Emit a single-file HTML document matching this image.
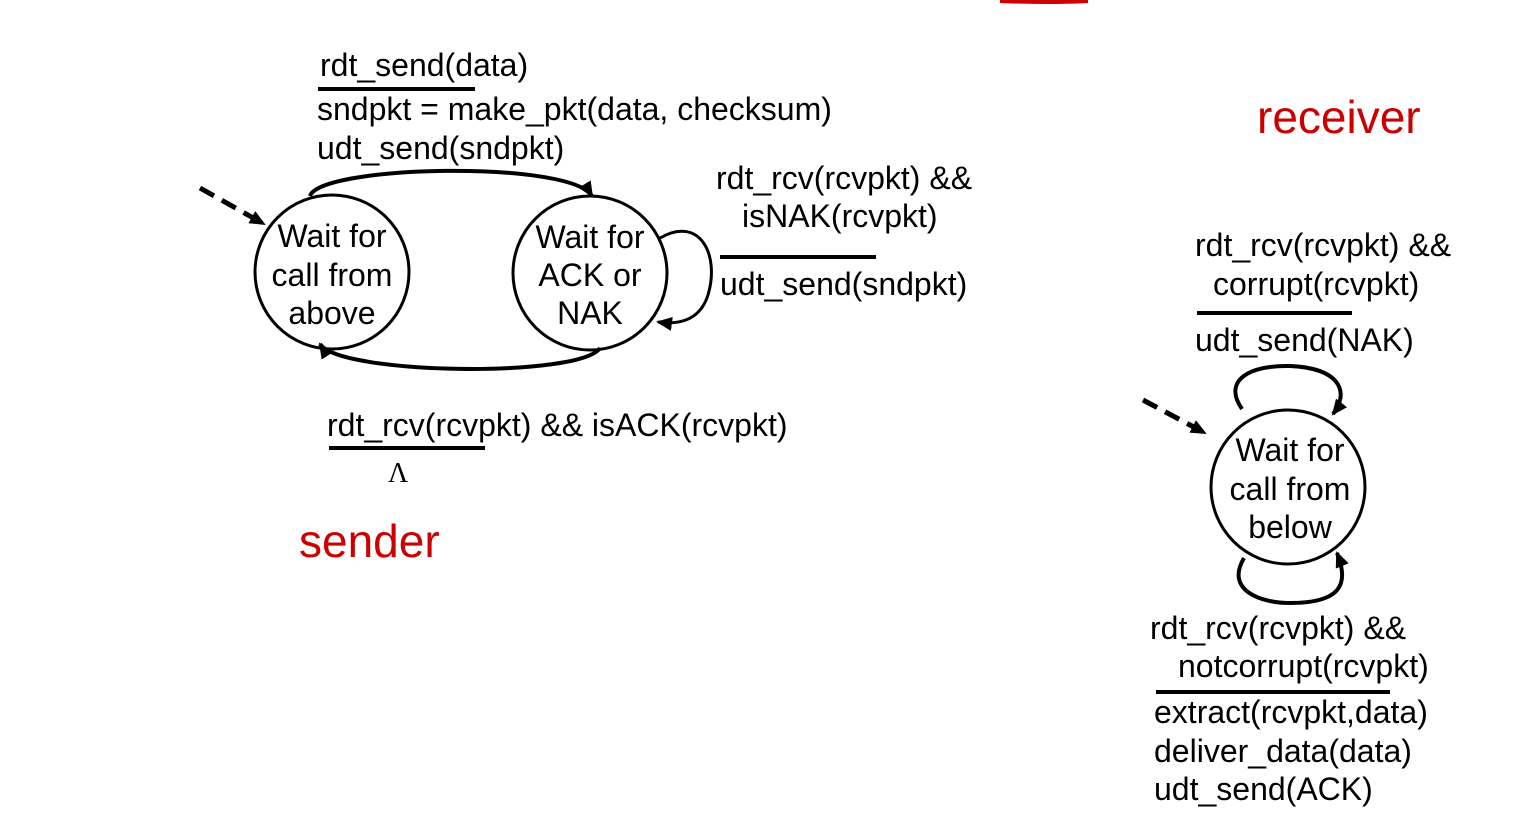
<!DOCTYPE html>
<html><head><meta charset="utf-8"><style>
html,body{margin:0;padding:0;background:#fff;}
svg{display:block;}
text{font-family:"Liberation Sans",Arial,sans-serif;font-size:32px;fill:#000;}
</style></head><body>
<svg width="1517" height="822" viewBox="0 0 1517 822" xmlns="http://www.w3.org/2000/svg">
<defs>
<marker id="ah2" markerWidth="16" markerHeight="14" refX="14" refY="7" orient="auto" markerUnits="userSpaceOnUse">
<path d="M0,0 L16,7 L0,14 z" fill="#000"/>
</marker>
</defs>
<path d="M1000,1 Q1050,3 1088,1" stroke="#c00" stroke-width="4" fill="none"/>

<circle cx="332" cy="272" r="77" fill="none" stroke="#000" stroke-width="3"/>
<circle cx="590" cy="273" r="77" fill="none" stroke="#000" stroke-width="3"/>
<text x="332" y="247" text-anchor="middle">Wait for</text>
<text x="332" y="286" text-anchor="middle">call from</text>
<text x="332" y="324" text-anchor="middle">above</text>
<text x="590" y="248" text-anchor="middle">Wait for</text>
<text x="590" y="286" text-anchor="middle">ACK or</text>
<text x="590" y="324" text-anchor="middle">NAK</text>

<line x1="200" y1="188" x2="264" y2="224" stroke="#000" stroke-width="5" stroke-dasharray="16,9" marker-end="url(#ah2)"/>
<path d="M310,196 C320,165 570,160 592,196" fill="none" stroke="#000" stroke-width="4" marker-end="url(#ah2)"/>
<path d="M600,348 C580,378 340,375 320,344" fill="none" stroke="#000" stroke-width="4" marker-end="url(#ah2)"/>
<path d="M660,238 C700,215 720,255 708,295 C700,320 680,325 658,322" fill="none" stroke="#000" stroke-width="3" marker-end="url(#ah2)"/>

<text x="320" y="76">rdt_send(data)</text>
<line x1="318" y1="89" x2="475" y2="89" stroke="#000" stroke-width="4"/>
<text x="317" y="120">sndpkt = make_pkt(data, checksum)</text>
<text x="317" y="159">udt_send(sndpkt)</text>

<text x="716" y="189">rdt_rcv(rcvpkt) &amp;&amp;</text>
<text x="742" y="227">isNAK(rcvpkt)</text>
<line x1="720" y1="257" x2="876" y2="257" stroke="#000" stroke-width="4"/>
<text x="720" y="295">udt_send(sndpkt)</text>

<text x="327" y="436">rdt_rcv(rcvpkt) &amp;&amp; isACK(rcvpkt)</text>
<line x1="329" y1="448" x2="485" y2="448" stroke="#000" stroke-width="4"/>
<text x="388" y="482" style="font-family:'Liberation Serif',serif;font-size:28px">Λ</text>

<text x="299" y="557" style="font-size:46px;fill:#c00">sender</text>

<text x="1257" y="133" style="font-size:46px;fill:#c00">receiver</text>
<text x="1195" y="256">rdt_rcv(rcvpkt) &amp;&amp;</text>
<text x="1213" y="295">corrupt(rcvpkt)</text>
<line x1="1197" y1="313" x2="1352" y2="313" stroke="#000" stroke-width="4"/>
<text x="1195" y="351">udt_send(NAK)</text>

<circle cx="1288" cy="487" r="77" fill="none" stroke="#000" stroke-width="3"/>
<text x="1290" y="461" text-anchor="middle">Wait for</text>
<text x="1290" y="500" text-anchor="middle">call from</text>
<text x="1290" y="538" text-anchor="middle">below</text>

<line x1="1143" y1="400" x2="1205" y2="433" stroke="#000" stroke-width="5" stroke-dasharray="16,9" marker-end="url(#ah2)"/>
<path d="M1242,409 C1222,380 1250,365 1290,366 C1340,368 1350,392 1333,414" fill="none" stroke="#000" stroke-width="4" marker-end="url(#ah2)"/>
<path d="M1244,558 C1225,590 1260,603 1290,603 C1340,603 1350,585 1337,553" fill="none" stroke="#000" stroke-width="4" marker-end="url(#ah2)"/>

<text x="1150" y="639">rdt_rcv(rcvpkt) &amp;&amp;</text>
<text x="1178" y="677">notcorrupt(rcvpkt)</text>
<line x1="1156" y1="692" x2="1390" y2="692" stroke="#000" stroke-width="4"/>
<text x="1154" y="723">extract(rcvpkt,data)</text>
<text x="1154" y="762">deliver_data(data)</text>
<text x="1154" y="800">udt_send(ACK)</text>
</svg>
</body></html>
